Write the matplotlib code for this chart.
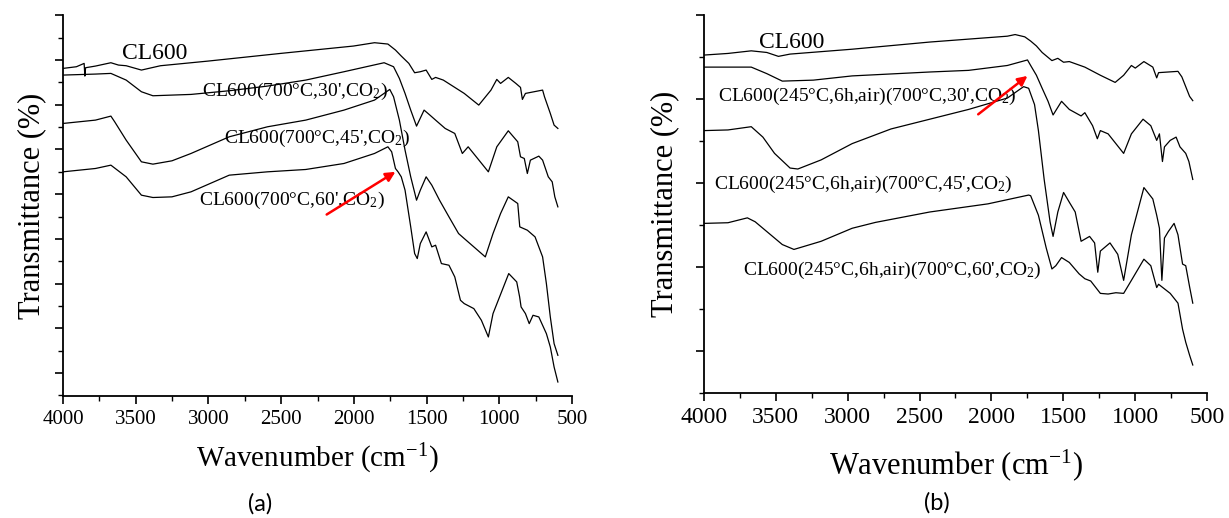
import matplotlib
matplotlib.use("Agg")
import matplotlib.pyplot as plt
from matplotlib.ticker import MultipleLocator
import numpy as np

plt.rcParams['font.family'] = ['Liberation Serif', 'DejaVu Serif']
plt.rcParams['mathtext.fontset'] = 'custom'
plt.rcParams['mathtext.rm'] = 'Liberation Serif'
plt.rcParams['mathtext.it'] = 'Liberation Serif:italic'

# ---- panel (a): wavenumber (cm-1) / transmittance (a.u.) ----
a_cl600_wn = [4000, 3908, 3855, 3850, 3845, 3777, 3671, 3619, 3566, 3461, 3330, 3001, 2502, 2003, 1858,
              1766, 1714, 1674, 1622, 1582, 1543, 1503, 1464, 1438, 1385, 1241, 1141, 1057, 1017, 991,
              938, 886, 854, 841, 820, 702, 689, 649, 623, 597]
a_cl600_t = [104.5, 105.0, 106.0, 102.2, 104.7, 105.2, 106.2, 105.5, 105.3, 104.0, 105.3, 106.7, 109.0, 111.2, 112.2,
             111.8, 110.0, 108.2, 106.0, 103.2, 103.5, 104.0, 101.2, 101.8, 101.0, 97.0, 93.5, 98.0, 101.2, 100.0,
             101.8, 100.0, 98.8, 95.2, 97.0, 98.0, 96.0, 91.0, 87.5, 86.5]

a_30_wn = [4000, 3777, 3671, 3566, 3461, 3382, 3120, 2857, 2594, 2331, 2068, 1792, 1727, 1687, 1648,
           1609, 1569, 1517, 1477, 1438, 1372, 1306, 1254, 1214, 1149, 1075, 1017, 938, 873, 854,
           828, 807, 786, 728, 702, 663, 636, 618, 597]
a_30_t = [102.5, 102.8, 103.0, 101.0, 97.5, 96.3, 96.7, 97.8, 99.2, 101.0, 103.5, 106.2, 105.0, 101.5, 97.0,
          92.0, 87.2, 92.0, 90.5, 89.0, 86.5, 85.0, 79.0, 81.0, 77.5, 73.5, 81.0, 85.8, 82.5, 78.0,
          77.5, 73.0, 77.0, 78.2, 77.0, 72.0, 70.5, 66.0, 63.0]

a_45_wn = [4000, 3777, 3671, 3645, 3566, 3461, 3382, 3251, 3120, 2857, 2594, 2331, 2068, 1858, 1753,
           1727, 1687, 1648, 1609, 1569, 1543, 1503, 1464, 1411, 1346, 1280, 1241, 1175, 1096, 1043,
           991, 938, 873, 859, 807, 754, 702, 676, 649, 623, 597]
a_45_t = [88.0, 89.0, 90.2, 88.5, 83.0, 76.5, 75.8, 76.8, 79.0, 84.0, 87.0, 89.0, 92.0, 95.0, 98.2,
          96.0, 89.0, 80.0, 72.0, 65.0, 68.0, 72.0, 69.5, 65.0, 60.0, 55.0, 53.5, 51.0, 48.0, 55.0,
          61.0, 66.0, 64.0, 57.0, 56.0, 54.0, 48.0, 40.0, 30.0, 22.0, 18.5]

a_60_wn = [4000, 3777, 3671, 3566, 3461, 3382, 3251, 3120, 2857, 2594, 2331, 2068, 1858, 1766, 1740,
           1714, 1696, 1674, 1648, 1609, 1582, 1564, 1543, 1503, 1464, 1438, 1398, 1346, 1306, 1267,
           1241, 1175, 1123, 1075, 1043, 935, 880, 860, 850, 820, 794, 768, 728, 702, 676, 649, 623, 597]
a_60_t = [73.5, 74.5, 75.5, 72.0, 66.5, 65.8, 66.0, 67.5, 72.5, 73.5, 74.2, 76.0, 79.0, 81.0, 79.5,
          74.5, 73.5, 72.0, 68.0, 57.0, 49.0, 47.5, 52.0, 55.5, 51.0, 51.5, 46.0, 45.5, 42.0, 35.0,
          34.0, 32.5, 29.0, 24.0, 31.0, 43.0, 40.5, 36.0, 33.0, 31.0, 28.0, 30.5, 30.0, 27.5, 25.0, 21.0, 15.0, 10.5]

# ---- panel (b) ----
b_cl600_wn = [4000, 3833, 3671, 3563, 3482, 3401, 2969, 2429, 1889, 1835, 1768, 1727, 1687, 1647, 1579,
              1538, 1498, 1458, 1350, 1242, 1139, 1080, 1026, 999, 939, 877, 850, 837, 702, 675, 648, 621, 599]
b_cl600_t = [108.2, 108.7, 109.5, 109.0, 107.8, 108.5, 110.0, 112.2, 114.0, 114.5, 113.8, 112.5, 111.0, 109.0, 106.5,
             107.2, 106.0, 106.2, 104.5, 102.0, 99.8, 102.0, 105.0, 104.2, 106.2, 104.5, 101.2, 102.8, 103.2, 101.5,
             98.5, 95.5, 94.2]

b_30_wn = [4000, 3671, 3563, 3455, 3239, 2969, 2429, 2159, 1889, 1749, 1727, 1687, 1647, 1606, 1571,
           1512, 1458, 1417, 1376, 1350, 1296, 1263, 1242, 1188, 1134, 1080, 1026, 945, 891, 850,
           831, 810, 796, 756, 715, 688, 648, 626, 599]
b_30_t = [104.5, 104.5, 102.5, 100.2, 100.5, 101.8, 103.0, 103.5, 105.0, 106.7, 105.0, 102.0, 98.0, 94.0, 89.8,
          94.0, 91.5, 90.5, 89.5, 90.5, 86.5, 82.5, 85.0, 84.0, 81.0, 78.0, 84.0, 88.5, 86.5, 82.0,
          84.0, 75.5, 80.0, 82.0, 83.0, 80.0, 78.0, 75.5, 70.0]

b_45_wn = [4000, 3833, 3671, 3590, 3509, 3401, 3347, 3185, 2969, 2699, 2429, 2159, 1889, 1776, 1741,
           1700, 1673, 1633, 1592, 1571, 1538, 1498, 1458, 1417, 1376, 1317, 1282, 1260, 1242, 1175,
           1121, 1080, 1026, 939, 877, 850, 831, 814, 796, 769, 729, 702, 670, 648, 621, 599]
b_45_t = [85.0, 85.2, 86.2, 83.0, 78.0, 73.5, 73.2, 76.0, 81.0, 85.5, 88.5, 91.5, 95.0, 98.5, 98.0,
          93.0, 85.0, 70.0, 57.0, 52.5, 60.0, 66.0, 63.0, 60.0, 51.0, 52.5, 50.5, 41.5, 48.0, 50.5,
          47.0, 39.0, 53.0, 67.5, 64.0, 59.0, 55.0, 39.0, 52.0, 54.0, 56.5, 53.0, 44.0, 43.5, 37.0, 32.0]

b_60_wn = [4000, 3833, 3698, 3644, 3536, 3455, 3374, 3185, 2969, 2807, 2429, 2024, 1741, 1727, 1673,
           1619, 1579, 1552, 1512, 1458, 1390, 1350, 1309, 1242, 1188, 1134, 1080, 1026, 939, 891,
           850, 837, 756, 702, 670, 648, 621, 599]
b_60_t = [56.5, 56.7, 58.2, 57.0, 53.0, 50.0, 48.5, 51.0, 55.0, 56.8, 60.0, 62.5, 65.2, 65.0, 59.0,
          49.0, 42.5, 43.5, 46.0, 44.5, 41.0, 39.5, 38.8, 35.0, 34.8, 35.2, 35.0, 39.0, 45.5, 43.5,
          36.8, 37.8, 35.0, 32.0, 24.0, 20.0, 16.0, 13.0]

a_labels = ["CL600(700°C,30',CO$_2$)", "CL600(700°C,45',CO$_2$)", "CL600(700°C,60',CO$_2$)"]
b_labels = ["CL600(245°C,6h,air)(700°C,30',CO$_2$)", "CL600(245°C,6h,air)(700°C,45',CO$_2$)",
            "CL600(245°C,6h,air)(700°C,60',CO$_2$)"]


def style_axes(ax, ylim, major, first_major, tick_size):
    ax.set_xlim(4000, 500)
    ax.set_ylim(*ylim)
    ax.spines['top'].set_visible(False)
    ax.spines['right'].set_visible(False)
    for s in ('left', 'bottom'):
        ax.spines[s].set_linewidth(1.3)
    ax.xaxis.set_major_locator(MultipleLocator(500))
    ax.xaxis.set_minor_locator(MultipleLocator(250))
    ax.set_yticks(np.arange(first_major, ylim[1] + 0.1, major))
    ax.set_yticks(np.arange(first_major - major / 2, ylim[1] + 0.1, major), minor=True)
    ax.set_yticklabels([])
    ax.tick_params(direction='out', which='major', length=6, width=1.2, labelsize=tick_size, pad=4)
    ax.tick_params(direction='out', which='minor', length=3.5, width=1.0)


fig = plt.figure(figsize=(12.29, 5.18), dpi=100)
ax1 = fig.add_axes([0.0513, 0.2355, 0.4141, 0.7355])
ax2 = fig.add_axes([0.5728, 0.2413, 0.4093, 0.7297])

lw = 0.9
for wn, t in [(a_cl600_wn, a_cl600_t), (a_30_wn, a_30_t), (a_45_wn, a_45_t), (a_60_wn, a_60_t)]:
    ax1.plot(wn, t, color='black', lw=lw)
for wn, t in [(b_cl600_wn, b_cl600_t), (b_30_wn, b_30_t), (b_45_wn, b_45_t), (b_60_wn, b_60_t)]:
    ax2.plot(wn, t, color='black', lw=lw)

style_axes(ax1, (6.3, 120.5), 13.4, 13.2, 15)
style_axes(ax2, (7.0, 120.5), 25.8, 17.3, 17)

ax1.text(3593, 109, "CL600", fontsize=17, va='center', ha='left')
for (x, y), s in zip([(3041, 97.5), (2896, 83.5), (3067, 65.0)], a_labels):
    ax1.text(x, y, s, fontsize=14, va='center', ha='left')
ax2.text(3617, 112, "CL600", fontsize=17, va='center', ha='left')
for (x, y), s in zip([(3900, 95.5), (3927, 68.5), (3725, 42.0)], b_labels):
    ax2.text(x, y, s, fontsize=14, va='center', ha='left')

arrow = dict(arrowstyle='-|>', color='red', lw=1.8, mutation_scale=14, shrinkA=0, shrinkB=0)
ax1.annotate('', xy=(1714, 73.5), xytext=(2187, 60.7), arrowprops=arrow)
ax2.annotate('', xy=(1749, 101.8), xytext=(2092, 90.0), arrowprops=arrow)

ax1.set_ylabel("Transmittance (%)", fontsize=22, labelpad=2)
ax2.set_ylabel("Transmittance (%)", fontsize=22, labelpad=8)
ax1.set_xlabel("Wavenumber (cm$^{-1}$)", fontsize=21, labelpad=9)
ax2.set_xlabel("Wavenumber (cm$^{-1}$)", fontsize=22, labelpad=14)

fig.text(0.212, 0.027, "(a)", fontsize=17, family=['Lato', 'DejaVu Sans'], ha='center', va='center')
fig.text(0.762, 0.029, "(b)", fontsize=17, family=['Lato', 'DejaVu Sans'], ha='center', va='center')

fig.savefig("out.png", dpi=100)
